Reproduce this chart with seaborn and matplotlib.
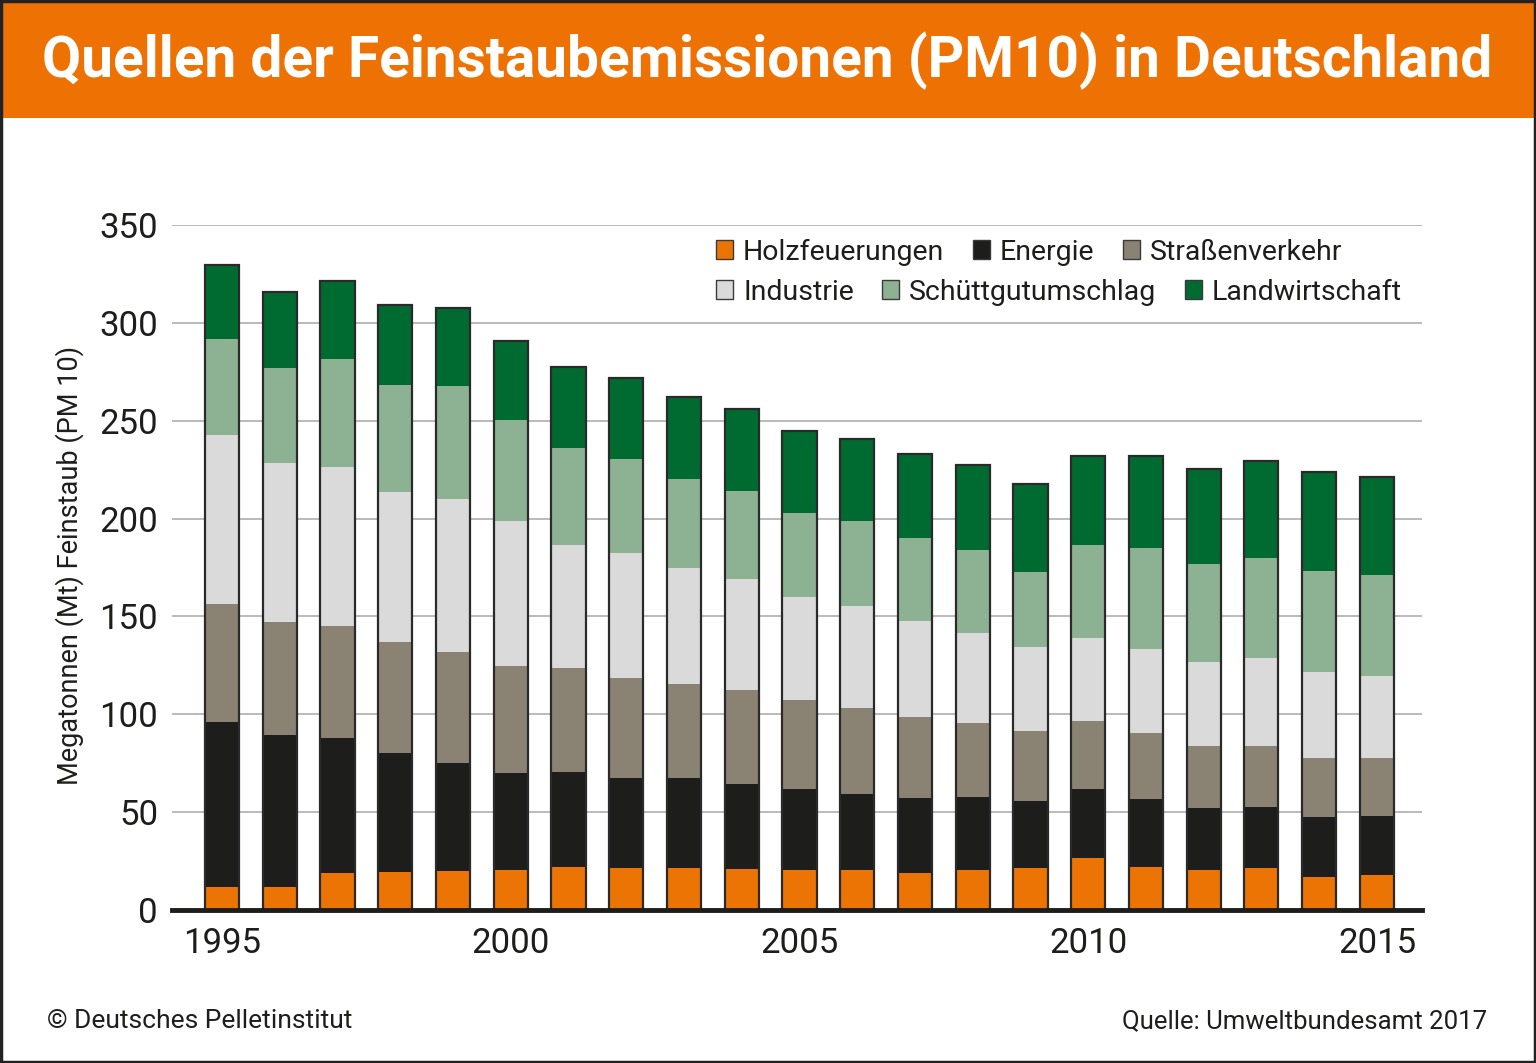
import matplotlib
matplotlib.use("Agg")
import matplotlib.pyplot as plt
from matplotlib.patches import Rectangle, Patch
from matplotlib import font_manager
import seaborn as sns
import numpy as np

years = list(range(1995, 2016))
holz = [12.0, 12.0, 19.0, 19.4, 20.1, 20.5, 22.2, 21.4, 21.6, 20.8, 20.2, 20.4, 19.0, 20.2, 21.6, 26.5, 21.9, 20.2, 21.3, 17.0, 17.7]
energie = [83.9, 77.2, 68.7, 60.8, 55.1, 49.5, 48.2, 46.2, 46.1, 43.7, 41.7, 38.7, 38.3, 37.3, 34.3, 35.2, 34.7, 31.7, 31.4, 30.4, 30.3]
strasse = [60.4, 58.2, 57.3, 56.5, 56.7, 54.7, 53.2, 51.0, 47.8, 47.7, 45.4, 44.0, 41.5, 38.2, 35.6, 34.9, 33.7, 32.1, 31.1, 30.5, 29.7]
industrie = [86.6, 81.1, 81.1, 77.0, 77.9, 74.2, 62.8, 63.9, 59.0, 57.0, 52.6, 52.4, 48.8, 45.7, 42.8, 42.2, 42.9, 42.9, 44.8, 43.5, 41.9]
schuett = [48.9, 48.6, 55.6, 54.7, 57.8, 51.4, 49.5, 48.0, 45.5, 44.8, 43.1, 43.4, 42.5, 42.4, 38.5, 47.9, 52.0, 50.0, 51.0, 51.9, 51.7]
landw = [37.9, 38.6, 39.5, 40.6, 40.1, 40.4, 41.3, 41.4, 41.9, 42.2, 41.8, 42.0, 43.1, 43.6, 45.1, 45.3, 46.8, 48.4, 50.0, 50.5, 50.1]

series_names = ["Holzfeuerungen", "Energie", "Straßenverkehr", "Industrie", "Schüttgutumschlag", "Landwirtschaft"]
series_vals = [holz, energie, strasse, industrie, schuett, landw]
colors = ["#EC7404", "#1D1D1B", "#8A8373", "#DADADA", "#8DB293", "#006B30"]
tick_years = [1995, 2000, 2005, 2010, 2015]
y_ticks = [0, 50, 100, 150, 200, 250, 300, 350]

sns.set_theme(style="white")
FONT = ["Roboto", "DejaVu Sans"]
plt.rcParams["font.family"] = FONT

def has_font(name):
    try:
        font_manager.findfont(font_manager.FontProperties(family=name), fallback_to_default=False)
        return True
    except Exception:
        return False

title_family = ["Liberation Sans Narrow", "Roboto", "DejaVu Sans"] if has_font("Liberation Sans Narrow") else ["Roboto", "DejaVu Sans"]

W, H = 1536, 1063
fig = plt.figure(figsize=(W / 100, H / 100), dpi=100)
fig.patch.set_facecolor("white")

# header band
fig.patches.append(Rectangle((0, (H - 118) / H), 1, 118 / H, transform=fig.transFigure,
                             facecolor="#EE7203", edgecolor="none", zorder=0))
fig.patches.append(Rectangle((0.0007, 0.001), 0.9986, 0.998, transform=fig.transFigure,
                             fill=False, edgecolor="#222222", linewidth=2.5, zorder=5))

ax = fig.add_axes([172 / W, (H - 910) / H, (1422 - 172) / W, (910 - 225) / H])

cum = np.cumsum(np.array(series_vals), axis=0)
for i in range(len(series_names) - 1, -1, -1):
    sns.barplot(x=years, y=cum[i], color=colors[i], saturation=1, width=0.59,
                linewidth=0, errorbar=None, ax=ax, zorder=3)
totals = cum[-1]
sns.barplot(x=years, y=totals, fill=False, width=0.59, edgecolor="#2a2a2a",
            linewidth=1.6, errorbar=None, ax=ax, zorder=4)

ax.set_xlim(-0.866, 20.78)
ax.set_ylim(0, 350)
ax.set_yticks(y_ticks)
ax.set_yticklabels([str(v) for v in y_ticks])
ax.set_xticks([years.index(y) for y in tick_years])
ax.set_xticklabels([str(y) for y in tick_years])
ax.tick_params(axis="y", length=0, pad=10, labelsize=25, colors="#1d1d1b")
ax.tick_params(axis="x", length=0, pad=12, labelsize=25, colors="#1d1d1b")
ax.set_xlabel("")
ax.set_ylabel("")
ax.yaxis.grid(True, color="#b4b4b4", linewidth=1.3, zorder=0)
ax.set_axisbelow(True)
for s in ["top", "right", "left"]:
    ax.spines[s].set_visible(False)
ax.spines["bottom"].set_color("#1d1d1b")
ax.spines["bottom"].set_linewidth(3.5)
ax.spines["bottom"].set_zorder(6)

handles = [Patch(facecolor=c, edgecolor="#3a3a3a", linewidth=1.0) for c in colors]
leg_kw = dict(ncol=3, frameon=False, fontsize=20.5, handlelength=0.6, handleheight=0.6,
              handletextpad=0.35, columnspacing=1.0, borderpad=0, borderaxespad=0,
              loc="center left", labelcolor="#1d1d1b")
leg1 = ax.legend(handles[:3], series_names[:3], bbox_to_anchor=((716 - 172) / 1250, (910 - 252) / 685), **leg_kw)
ax.add_artist(leg1)
leg2 = ax.legend(handles[3:], series_names[3:], bbox_to_anchor=((716 - 172) / 1250, (910 - 292) / 685), **leg_kw)

fig.text(70 / W, (H - 565) / H, "Megatonnen (Mt) Feinstaub (PM 10)", rotation=90,
         ha="center", va="center", fontsize=19.5, color="#1d1d1b")

fig.text(47 / W, (H - 1028) / H, "© Deutsches Pelletinstitut", ha="left", va="baseline",
         fontsize=19, color="#1d1d1b")
fig.text(1487 / W, (H - 1028) / H, "Quelle: Umweltbundesamt 2017", ha="right", va="baseline",
         fontsize=18.5, color="#1d1d1b")

title = fig.text(42 / W, (H - 77) / H, "Quellen der Feinstaubemissionen (PM10) in Deutschland",
                 ha="left", va="baseline", fontsize=46, fontweight="bold", color="white",
                 family=title_family)
fig.canvas.draw()
bb = title.get_window_extent(renderer=fig.canvas.get_renderer())
target = 1490 - 42
if bb.width > target:
    title.set_fontsize(46 * target / bb.width)

fig.savefig("out.png", dpi=100, facecolor="white")
